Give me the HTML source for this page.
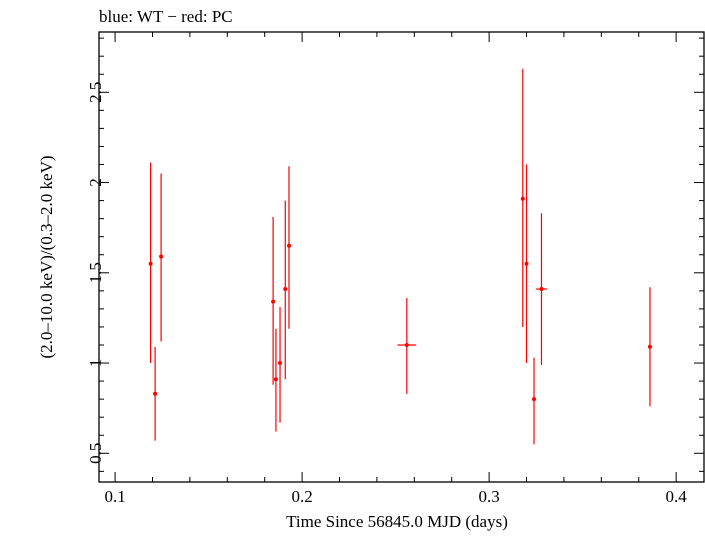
<!DOCTYPE html>
<html><head><meta charset="utf-8"><style>
body{margin:0;background:#fff;width:705px;height:532px;overflow:hidden}
text{font-family:"Liberation Serif",serif;fill:#000}
</style></head><body>
<svg id="chart" width="705" height="532" xmlns="http://www.w3.org/2000/svg">
<text x="99" y="22" font-size="17">blue: WT − red: PC</text>
<rect x="99" y="32" width="605" height="450" fill="none" stroke="#000" stroke-width="1.3"/>
<g id="axes"></g>
<g id="marks"></g>
<text x="397" y="527" font-size="17" text-anchor="middle">Time Since 56845.0 MJD (days)</text>
<text transform="translate(52,257) rotate(-90)" font-size="17" text-anchor="middle">(2.0–10.0 keV)/(0.3–2.0 keV)</text>
</svg>
<script>
const times=[0.119,0.1214,0.1246,0.1845,0.186,0.1882,0.191,0.193,0.256,0.318,0.320,0.324,0.328,0.386];
const timeErr=[0.0006,0.0006,0.0006,0.0006,0.0006,0.0006,0.0006,0.0006,0.005,0.0006,0.0006,0.0006,0.003,0.0006];
const ratios=[1.55,0.83,1.59,1.34,0.91,1.0,1.41,1.65,1.1,1.91,1.55,0.8,1.41,1.09];
const ratioLo=[1.0,0.57,1.12,0.88,0.62,0.67,0.91,1.19,0.83,1.2,1.0,0.55,0.99,0.76];
const ratioHi=[2.11,1.09,2.05,1.81,1.19,1.31,1.9,2.09,1.36,2.63,2.1,1.03,1.83,1.42];
const xTicks=[0.1,0.2,0.3,0.4];
const xTickLabels=["0.1","0.2","0.3","0.4"];
const yTicks=[0.5,1,1.5,2,2.5];
const yTickLabels=["0.5","1","1.5","2","2.5"];
const L=99,R=704,T=32,B=482;
const xMin=0.0914,xMax=0.4149,yMin=0.341,yMax=2.834;
const sx=v=>L+(v-xMin)/(xMax-xMin)*(R-L);
const sy=v=>B-(v-yMin)/(yMax-yMin)*(B-T);
const NS="http://www.w3.org/2000/svg";
function mk(tag,attrs,parent){const e=document.createElementNS(NS,tag);for(const k in attrs)e.setAttribute(k,attrs[k]);parent.appendChild(e);return e;}
const ax=document.getElementById('axes'),mg=document.getElementById('marks');
for(let v=0.1;v<=0.4101;v+=0.02){const x=sx(v);const major=Math.abs(v*10-Math.round(v*10))<1e-6;const len=major?10:5;
const t1=mk('line',{x1:x,x2:x,y1:B,y2:B-len,stroke:'#000'},ax);


const t2=mk('line',{x1:x,x2:x,y1:T,y2:T+len,stroke:'#000'},ax);

}
xTicks.forEach((v,i)=>{const t=mk('text',{x:sx(v),y:502,'font-size':17,'text-anchor':'middle'},ax);t.textContent=xTickLabels[i];

});
for(let v=0.4;v<=2.8001;v+=0.1){const y=sy(v);const major=Math.abs(v*2-Math.round(v*2))<1e-6;const len=major?10:5;
const t1=mk('line',{x1:L,x2:L+len,y1:y,y2:y,stroke:'#000'},ax);


const t2=mk('line',{x1:R,x2:R-len,y1:y,y2:y,stroke:'#000'},ax);

}
yTicks.forEach((v,i)=>{const t=mk('text',{transform:`translate(101,${sy(v)}) rotate(-90)`,'font-size':17,'text-anchor':'middle'},ax);t.textContent=yTickLabels[i];

});
times.forEach((t,i)=>{const g=mk('g',{},mg);


mk('line',{x1:sx(t),x2:sx(t),y1:sy(ratioLo[i]),y2:sy(ratioHi[i]),stroke:'#f00','stroke-width':1.2},g);
mk('line',{x1:sx(t-timeErr[i]),x2:sx(t+timeErr[i]),y1:sy(ratios[i]),y2:sy(ratios[i]),stroke:'#f00','stroke-width':1.2},g);
mk('circle',{cx:sx(t),cy:sy(ratios[i]),r:2,fill:'#f00'},g);});
</script>
</body></html>
